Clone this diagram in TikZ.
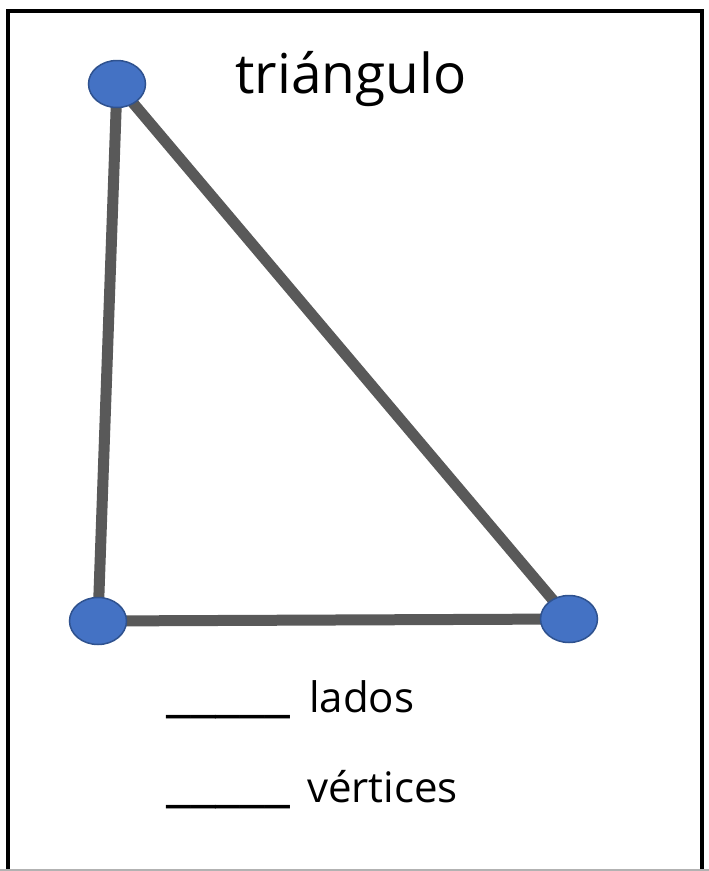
\documentclass[tikz,border=0pt]{standalone}
\usepackage{fontspec}
\setmainfont{Open Sans}
\usetikzlibrary{shapes.geometric}
\definecolor{vertexblue}{HTML}{4472C4}
\definecolor{vertexrim}{HTML}{2F528F}
\definecolor{sidegray}{HTML}{595959}
\tikzset{
  quizframe/.style={draw=black,line width=4pt},
  quizside/.style={draw=sidegray,line width=11pt},
  quizvertex/.style={ellipse,fill=vertexblue,draw=vertexrim,line width=1.5pt,
    minimum width=57pt,minimum height=47pt,inner sep=0pt},
  quizlabel/.style={font=\fontsize{42}{48}\selectfont,inner sep=0pt,anchor=base west}
}
\newcommand{\quizblank}{\scalebox{1.32}[1.3]{\_\_\_\_\_}}
\begin{document}
\begin{tikzpicture}[x=1pt,y=-1pt]
  \useasboundingbox[fill=white] (0,0) rectangle (709,871);
  \draw[quizframe] (8,880)--(8,11)--(702,11)--(702,880);
  \draw[gray!60,line width=1.5pt] (0,870)--(709,870);
  \coordinate (apex) at (117,84);
  \coordinate (baseL) at (98,621);
  \coordinate (baseR) at (569,619);
  \draw[quizside] (apex)--(baseR)--(baseL)--cycle;
  \node[quizvertex] (vA) at (apex) {};
  \node[quizvertex] (vB) at (baseL) {};
  \node[quizvertex] (vC) at (baseR) {};
  \node[font=\fontsize{55}{60}\selectfont,inner sep=0pt,anchor=base] (title) at (351,93) {triángulo};
  \node[quizlabel] (sidesgap) at (166,710) {\quizblank};
  \node[quizlabel] (sides) at (309,712) {lados};
  \node[quizlabel] (cornersgap) at (166,800) {\quizblank};
  \node[quizlabel] (corners) at (307,802) {vértices};
\end{tikzpicture}
\end{document}
